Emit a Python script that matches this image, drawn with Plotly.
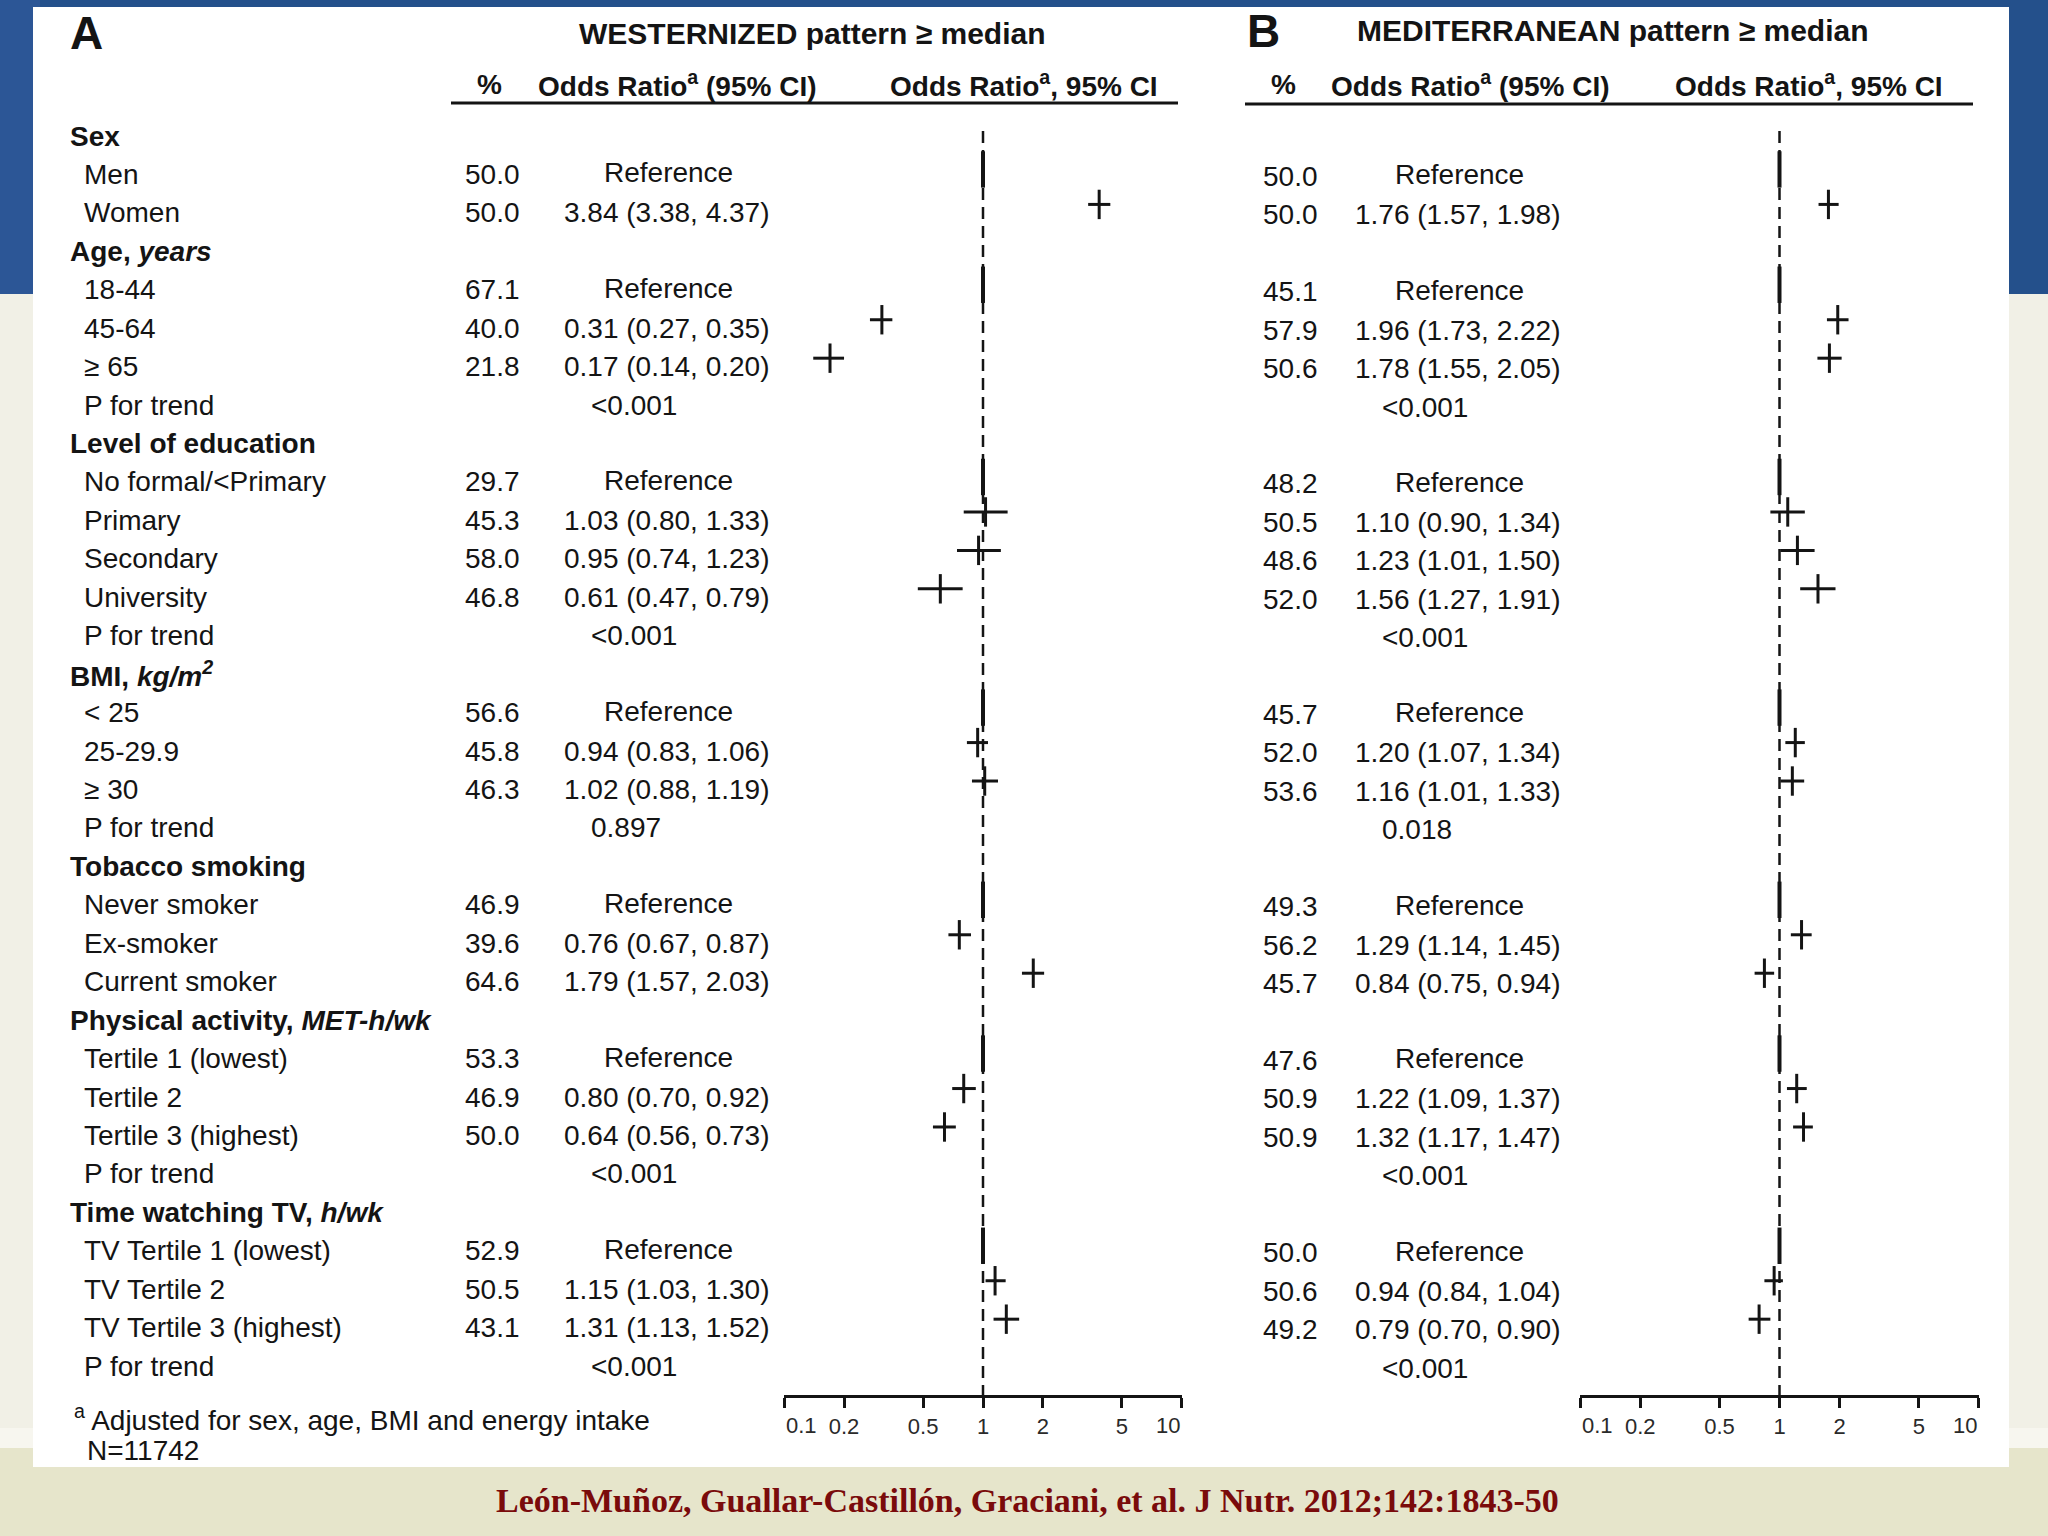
import math
import plotly.graph_objects as go

W, H = 2048, 1536

# ---------------- data ----------------
group_titles = ["Sex", "Age, <i>years</i>", "Level of education",
                "BMI, <i>kg/m<sup>2</sup></i>", "Tobacco smoking",
                "Physical activity, <i>MET-h/wk</i>", "Time watching TV, <i>h/wk</i>"]
group_items = [
    ["Men", "Women"],
    ["18-44", "45-64", "≥ 65", "P for trend"],
    ["No formal/<Primary", "Primary", "Secondary", "University", "P for trend"],
    ["< 25", "25-29.9", "≥ 30", "P for trend"],
    ["Never smoker", "Ex-smoker", "Current smoker"],
    ["Tertile 1 (lowest)", "Tertile 2", "Tertile 3 (highest)", "P for trend"],
    ["TV Tertile 1 (lowest)", "TV Tertile 2", "TV Tertile 3 (highest)", "P for trend"],
]

west_pct = ["50.0", "50.0", "67.1", "40.0", "21.8", None, "29.7", "45.3", "58.0", "46.8", None,
            "56.6", "45.8", "46.3", None, "46.9", "39.6", "64.6", "53.3", "46.9", "50.0", None,
            "52.9", "50.5", "43.1", None]
west_est = ["ref", 3.84, "ref", 0.31, 0.17, "<0.001", "ref", 1.03, 0.95, 0.61, "<0.001",
            "ref", 0.94, 1.02, "0.897", "ref", 0.76, 1.79, "ref", 0.80, 0.64, "<0.001",
            "ref", 1.15, 1.31, "<0.001"]
west_lo = [None, 3.38, None, 0.27, 0.14, None, None, 0.80, 0.74, 0.47, None,
           None, 0.83, 0.88, None, None, 0.67, 1.57, None, 0.70, 0.56, None,
           None, 1.03, 1.13, None]
west_hi = [None, 4.37, None, 0.35, 0.20, None, None, 1.33, 1.23, 0.79, None,
           None, 1.06, 1.19, None, None, 0.87, 2.03, None, 0.92, 0.73, None,
           None, 1.30, 1.52, None]

med_pct = ["50.0", "50.0", "45.1", "57.9", "50.6", None, "48.2", "50.5", "48.6", "52.0", None,
           "45.7", "52.0", "53.6", None, "49.3", "56.2", "45.7", "47.6", "50.9", "50.9", None,
           "50.0", "50.6", "49.2", None]
med_est = ["ref", 1.76, "ref", 1.96, 1.78, "<0.001", "ref", 1.10, 1.23, 1.56, "<0.001",
           "ref", 1.20, 1.16, "0.018", "ref", 1.29, 0.84, "ref", 1.22, 1.32, "<0.001",
           "ref", 0.94, 0.79, "<0.001"]
med_lo = [None, 1.57, None, 1.73, 1.55, None, None, 0.90, 1.01, 1.27, None,
          None, 1.07, 1.01, None, None, 1.14, 0.75, None, 1.09, 1.17, None,
          None, 0.84, 0.70, None]
med_hi = [None, 1.98, None, 2.22, 2.05, None, None, 1.34, 1.50, 1.91, None,
          None, 1.34, 1.33, None, None, 1.45, 0.94, None, 1.37, 1.47, None,
          None, 1.04, 0.90, None]

tick_vals = [0.1, 0.2, 0.5, 1, 2, 5, 10]
tick_text = ["0.1", "0.2", "0.5", "1", "2", "5", "10"]

panel_letters = ["A", "B"]
panel_titles = ["WESTERNIZED pattern ≥ median", "MEDITERRANEAN pattern ≥ median"]
col_headers = ["%", "Odds Ratio<sup>a</sup> (95% CI)", "Odds Ratio<sup>a</sup>, 95% CI"]
footnote_lines = ["<sup>a</sup> Adjusted for sex, age, BMI and energy intake", "N=11742"]
citation = "León-Muñoz, Guallar-Castillón, Graciani, et al. J Nutr. 2012;142:1843-50"

# ---------------- layout helpers ----------------
INK = "#141414"
FONT = "Liberation Sans, Arial, sans-serif"
ROW0, ROWH = 136.0, 38.44


def prow(p):
    return (p - ROW0) / ROWH


def fx(p):
    return p / W


def fy(p):
    return 1 - p / H


AXIS_Y = 1396

panels = [
    dict(pct=west_pct, est=west_est, lo=west_lo, hi=west_hi, xa="x",
         pct_x=492, or_x=562, ref_x=668, p_x=589, dy=0.0,
         letter_x=68, letter_y=33, title_x=812, title_y=33,
         hdr_x=(489, 677, 1024), line=(451, 1178, 103)),
    dict(pct=med_pct, est=med_est, lo=med_lo, hi=med_hi, xa="x2",
         pct_x=1290, or_x=1353, ref_x=1459, p_x=1380, dy=0.05,
         letter_x=1245, letter_y=31, title_x=1613, title_y=30,
         hdr_x=(1283, 1470, 1809), line=(1245, 1973, 104)),
]

# row index assignment
label_rows = []
item_rows = []
r = 0
for title, items in zip(group_titles, group_items):
    label_rows.append(("<b>" + title + "</b>", 68, r))
    r += 1
    for it in items:
        label_rows.append((it, 82, r))
        item_rows.append(r)
        r += 1

fig = go.Figure()
annotations = []


def txt(text, x, y, size=28, anchor="left", bold=False, yref="y", color=INK, family=FONT,
        xref="paper"):
    annotations.append(dict(
        text=("<b>%s</b>" % text) if bold else text, x=x, y=y, xref=xref, yref=yref,
        xanchor=anchor, yanchor="middle", showarrow=False,
        font=dict(size=size, color=color, family=family)))


for text, xpx, rr in label_rows:
    txt(text, fx(xpx), rr)

shapes = []
for k, P in enumerate(panels):
    ci_x, ci_y, pt_x, pt_y, rf_x, rf_y = [], [], [], [], [], []
    for i, rr in enumerate(item_rows):
        yy = rr + P["dy"]
        pct, est = P["pct"][i], P["est"][i]
        if pct is not None:
            txt(pct, fx(P["pct_x"]), yy, anchor="center")
        if est == "ref":
            txt("Reference", fx(P["ref_x"]), yy - 0.04, anchor="center")
            rf_x.append(1.0)
            rf_y.append(rr - 0.13)
        elif isinstance(est, str):
            txt(est, fx(P["p_x"]), yy)
        else:
            lo, hi = P["lo"][i], P["hi"][i]
            txt("%.2f (%.2f, %.2f)" % (est, lo, hi), fx(P["or_x"]), yy)
            ci_x += [lo, hi, None]
            ci_y += [rr - 0.22, rr - 0.22, None]
            pt_x.append(est)
            pt_y.append(rr - 0.22)

    xa = P["xa"]
    fig.add_trace(go.Scatter(x=[1, 1], y=[prow(131), prow(AXIS_Y)], mode="lines",
                             line=dict(color=INK, width=2.5, dash="12px,7px"),
                             xaxis=xa, yaxis="y", hoverinfo="skip", showlegend=False))
    fig.add_trace(go.Scatter(x=ci_x, y=ci_y, mode="lines", line=dict(color=INK, width=3),
                             xaxis=xa, yaxis="y", hoverinfo="skip", showlegend=False))
    fig.add_trace(go.Scatter(x=pt_x, y=pt_y, mode="markers",
                             marker=dict(symbol="line-ns", size=21, color=INK,
                                         line=dict(color=INK, width=3)),
                             xaxis=xa, yaxis="y", hoverinfo="skip", showlegend=False))
    fig.add_trace(go.Scatter(x=rf_x, y=rf_y, mode="markers",
                             marker=dict(symbol="line-ns", size=26, color=INK,
                                         line=dict(color=INK, width=4)),
                             xaxis=xa, yaxis="y", hoverinfo="skip", showlegend=False))

    # end tick labels sit inside the axis span (left / right aligned to the end ticks)
    txt(tick_text[0], math.log10(tick_vals[0]), fy(1425), size=22, anchor="left",
        yref="paper", xref=xa, color="#2a2a2a")
    txt(tick_text[-1], math.log10(tick_vals[-1]), fy(1425), size=22, anchor="right",
        yref="paper", xref=xa, color="#2a2a2a")

    # headings
    txt(panel_letters[k], fx(P["letter_x"]), fy(P["letter_y"]), size=46,
        bold=True, yref="paper")
    txt(panel_titles[k], fx(P["title_x"]), fy(P["title_y"]), size=30,
        anchor="center", bold=True, yref="paper")
    for h, hx in zip(col_headers, P["hdr_x"]):
        txt(h, fx(hx), fy(84), size=28, anchor="center", bold=True, yref="paper")
    x0, x1, ly = P["line"]
    shapes.append(dict(type="line", xref="paper", yref="paper", x0=fx(x0), x1=fx(x1),
                       y0=fy(ly), y1=fy(ly), line=dict(color=INK, width=3)))

txt(footnote_lines[0], fx(72), fy(1418), size=28, yref="paper")
txt(footnote_lines[1], fx(85), fy(1450), size=28, yref="paper")
txt(citation, fx(1027), fy(1500), size=34, anchor="center", bold=True, yref="paper",
    color="#7a0b0b", family="Liberation Serif, Times New Roman, serif")

# background decoration (slide)
bg = [
    (0, 0, W, 294, "#24508b"),
    (0, 0, 40, 294, "#2c5696"),
    (0, 294, W, 1448, "#f1f0e6"),
    (0, 1428, W, 1448, "#f7f6ef"),
    (33, 7, 2009, 1467, "#ffffff"),
]
bg_shapes = [dict(type="rect", xref="paper", yref="paper", x0=fx(a), x1=fx(c), y0=fy(d),
                  y1=fy(b), fillcolor=col, line=dict(width=0), layer="below")
             for a, b, c, d, col in bg]

mid_text = [""] + tick_text[1:-1] + [""]
axis_common = dict(type="log", range=[-1.001, 1.001], anchor="free", position=fy(AXIS_Y),
                   showgrid=False, zeroline=False, tickmode="array", tickvals=tick_vals,
                   fixedrange=True, automargin=False)
main_axis = dict(axis_common, showline=True, linewidth=3, linecolor=INK, ticks="outside",
                 ticklen=10, tickwidth=2.5, tickcolor=INK, ticktext=mid_text,
                 tickfont=dict(size=22, color="#2a2a2a", family=FONT))
over_axis = dict(axis_common, showline=False, ticks="inside", ticklen=11, tickwidth=2.5,
                 tickcolor=INK, showticklabels=False)

fig.update_layout(
    template="none",
    width=W, height=H, margin=dict(l=0, r=0, t=0, b=0, pad=0, autoexpand=False),
    paper_bgcolor="#e6e5cb", plot_bgcolor="rgba(0,0,0,0)",
    showlegend=False,
    xaxis=dict(main_axis, domain=[fx(784), fx(1182)]),
    xaxis2=dict(main_axis, domain=[fx(1580), fx(1979)]),
    xaxis3=dict(over_axis, overlaying="x"),
    xaxis4=dict(over_axis, overlaying="x2"),
    yaxis=dict(domain=[0, 1], range=[prow(H), prow(0)], visible=False, fixedrange=True,
               automargin=False),
    annotations=annotations,
    shapes=bg_shapes + shapes,
)

fig.write_html(
    "out.html",
    config={"displayModeBar": False},
    post_script="document.body.style.margin='0';document.body.style.padding='0';"
                "document.documentElement.style.overflow='hidden';"
                "document.body.style.overflow='hidden';",
)
